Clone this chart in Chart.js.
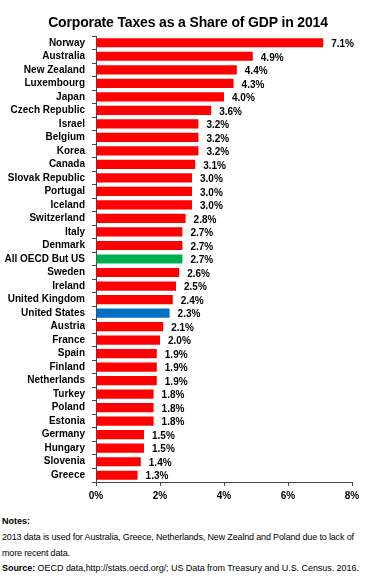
<!DOCTYPE html>
<html>
<head>
<meta charset="utf-8">
<script src="https://cdn.jsdelivr.net/npm/chart.js@4"></script>
<style>
  body { margin: 0; background: #fff; font-family: "Liberation Sans", Arial, sans-serif; }
  #wrap { position: relative; width: 376px; height: 579px; }
  #titulo { position: absolute; left: 0; top: 13px; width: 376px; text-align: center;
            font-weight: bold; font-size: 14px; letter-spacing: -0.15px; line-height: 18px; color: #000; }
  .nota { position: absolute; left: 2px; font-size: 9px; line-height: 11px; color: #000; white-space: nowrap; letter-spacing: -0.16px; }
  canvas { position: absolute; left: 0; top: 0; }
</style>
</head>
<body>
<div id="wrap">
  <canvas id="grafico" width="376" height="510"></canvas>
  <div id="titulo">Corporate Taxes as a Share of GDP in 2014</div>
  <div class="nota" style="top:516px; letter-spacing:0"><b>Notes:</b></div>
  <div class="nota" style="top:532px">2013 data is used for Australia, Greece, Netherlands, New Zealnd and Poland due to lack of</div>
  <div class="nota" style="top:548px">more recent data.</div>
  <div class="nota" style="top:563px; letter-spacing:-0.05px"><b>Source:</b> OECD data,http://stats.oecd.org/; US Data from Treasury and U.S. Census. 2016.</div>
</div>
<script>
const paises = ["Norway", "Australia", "New Zealand", "Luxembourg", "Japan", "Czech Republic",
  "Israel", "Belgium", "Korea", "Canada", "Slovak Republic", "Portugal", "Iceland",
  "Switzerland", "Italy", "Denmark", "All OECD But US", "Sweden", "Ireland",
  "United Kingdom", "United States", "Austria", "France", "Spain", "Finland",
  "Netherlands", "Turkey", "Poland", "Estonia", "Germany", "Hungary", "Slovenia", "Greece"];
const impuestos = [7.1, 4.9, 4.4, 4.3, 4.0, 3.6, 3.2, 3.2, 3.2, 3.1, 3.0, 3.0, 3.0,
  2.8, 2.7, 2.7, 2.7, 2.6, 2.5, 2.4, 2.3, 2.1, 2.0, 1.9, 1.9, 1.9, 1.8, 1.8, 1.8,
  1.5, 1.5, 1.4, 1.3];
const ticksX = [0, 2, 4, 6, 8];

// colores: verde para el promedio OCDE, azul para EE.UU.
const colores = paises.map(p => p === "All OECD But US" ? "#00B050" : (p === "United States" ? "#0070C0" : "#FF0000"));

// etiquetas de valor al final de cada barra
const etiquetas = {
  id: "etiquetas",
  afterDatasetsDraw(chart) {
    const ctx = chart.ctx;
    const meta = chart.getDatasetMeta(0);
    ctx.save();
    ctx.font = "bold 10px 'Liberation Sans', Arial, sans-serif";
    ctx.fillStyle = "#000";
    ctx.textBaseline = "middle";
    meta.data.forEach((bar, i) => {
      ctx.fillText(impuestos[i].toFixed(1) + "%", bar.x + 8, bar.y + 1.5);
    });
    ctx.restore();
  }
};

new Chart(document.getElementById("grafico").getContext("2d"), {
  type: "bar",
  data: {
    labels: paises,
    datasets: [{
      data: impuestos,
      backgroundColor: colores,
      barPercentage: 0.68,
      categoryPercentage: 1
    }]
  },
  options: {
    indexAxis: "y",
    responsive: false,
    animation: false,
    layout: { padding: { top: 36, right: 24, left: 0, bottom: 0 } },
    plugins: { legend: { display: false }, tooltip: { enabled: false } },
    scales: {
      x: {
        min: 0, max: 8,
        afterBuildTicks: s => { s.ticks = ticksX.map(v => ({ value: v })); },
        afterFit: s => { s.height = 28; },
        border: { display: true, color: "#444", width: 1 },
        grid: { drawOnChartArea: false, drawTicks: true, tickLength: 4, color: "#444" },
        ticks: {
          padding: 4,
          color: "#000",
          font: { family: "'Liberation Sans', Arial, sans-serif", size: 10, weight: "bold" },
          callback: v => v + "%"
        }
      },
      y: {
        afterFit: s => { s.width = 96; },
        border: { display: true, color: "#444", width: 1 },
        grid: { drawOnChartArea: false, drawTicks: true, tickLength: 4, color: "#444", offset: true },
        ticks: {
          padding: 7,
          autoSkip: false,
          color: "#000",
          font: { family: "'Liberation Sans', Arial, sans-serif", size: 10, weight: "bold" }
        }
      }
    }
  },
  plugins: [etiquetas]
});
</script>
</body>
</html>
